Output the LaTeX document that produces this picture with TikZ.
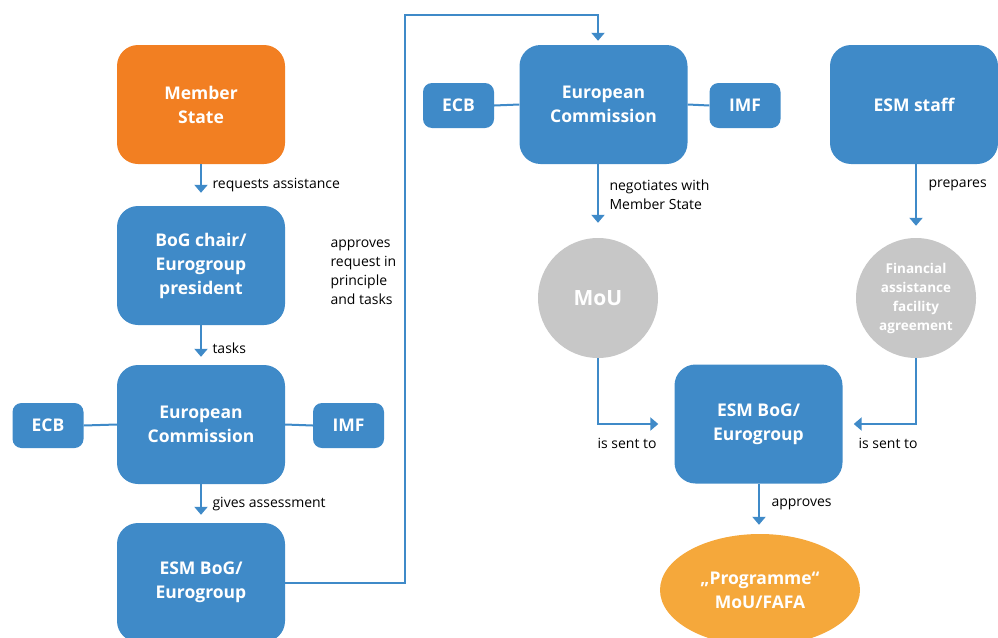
\documentclass[tikz,border=0pt]{standalone}
\usepackage{fontspec}
\setmainfont{Open Sans}
\usetikzlibrary{arrows.meta,positioning,shapes.geometric}
\definecolor{bluebox}{HTML}{3F8AC8}
\definecolor{orangebox}{HTML}{F27F22}
\definecolor{greycirc}{HTML}{C7C7C7}
\definecolor{orangeell}{HTML}{F5A83B}
\tikzset{
  box/.style={fill=bluebox, rounded corners=21pt, minimum width=168pt, minimum height=119pt, text=white, font=\fontsize{17.5}{24}\selectfont\bfseries, align=center, inner sep=0pt},
  small/.style={fill=bluebox, rounded corners=9pt, minimum width=71pt, minimum height=45pt, text=white, font=\fontsize{17.5}{24}\selectfont\bfseries, inner sep=0pt},
  circ/.style={circle, fill=greycirc, minimum size=120pt, text=white, inner sep=0pt, align=center},
  conn/.style={draw=bluebox, line width=2pt},
  arr/.style={conn, -{Triangle[length=8pt,width=13pt]}},
  lbl/.style={font=\fontsize{14}{19}\selectfont, anchor=west, align=left, text=black}
}
\begin{document}
\begin{tikzpicture}[x=1pt,y=-1pt]
\useasboundingbox (0,0) rectangle (998,637);
% left column
\node[box, fill=orangebox] (ms) at (201,104.5) {Member\\State};
\node[box] (bog) at (201,265.5) {BoG chair/\\Eurogroup\\president};
\node[box] (ec1) at (201,424.5) {European\\Commission};
\node[small] (ecb1) at (48,425.5) {ECB};
\node[small] (imf1) at (348.5,425.5) {IMF};
\node[box] (esm1) at (201,582.5) {ESM BoG/\\Eurogroup};
% right part
\node[box] (ec2) at (603.5,104.5) {European\\Commission};
\node[small] (ecb2) at (458.5,105.5) {ECB};
\node[small] (imf2) at (745,105.5) {IMF};
\node[box] (staff) at (914,104.5) {ESM staff};
\node[circ, font=\fontsize{21}{24}\selectfont\bfseries] (mou) at (598,298) {MoU};
\node[circ, font=\fontsize{13.5}{19}\selectfont\bfseries] (fafa) at (916,298) {Financial\\assistance\\facility\\agreement};
\node[box] (esm2) at (758.5,424) {ESM BoG/\\Eurogroup};
\node[ellipse, fill=orangeell, minimum width=200pt, minimum height=112pt, text=white, font=\fontsize{17.5}{24}\selectfont\bfseries, align=center, inner sep=0pt] (prog) at (760,590) {„Programme“\\MoU/FAFA};
% connectors left
\draw[arr, shorten >=13pt] (ms.south) -- (bog.north);
\draw[arr, shorten >=8pt] (bog.south -| ms.south) -- (ec1.north);
\draw[arr, shorten >=8pt] (ec1.south) -- (esm1.north);
\draw[conn] (ecb1.east) -- (ec1.west);
\draw[conn] (ec1.east) -- (imf1.west);
\coordinate (c1) at (405,15);
\draw[arr, shorten >=4pt] (esm1.east) -| (c1) -| (ec2.north -| 598,0);
% connectors right
\draw[conn] (ecb2.east) -- (ec2.west);
\draw[conn] (ec2.east) -- (imf2.west);
\draw[arr, shorten >=15pt] (ec2.south -| mou.north) -- (mou.north);
\draw[arr, shorten >=12pt] (staff.south -| fafa.north) -- (fafa.north);
\draw[arr, shorten >=16pt] (mou.south) |- (esm2.west);
\draw[arr, shorten >=11pt] (fafa.south) |- (esm2.east);
\draw[arr, shorten >=9pt] (esm2.south -| 759,0) -- (prog.north -| 759,0);
% labels
\node[lbl] (l1) at (209,185.5) {requests assistance};
\node[lbl] (l2) at (327,272) {approves\\request in\\principle\\and tasks};
\node[lbl] (l3) at (209,348.5) {tasks};
\node[lbl] (l4) at (209,504.5) {gives assessment};
\node[lbl] (l5) at (606,195) {negotiates with\\Member State};
\node[lbl] (l6) at (925,185.5) {prepares};
\node[lbl] (l7) at (594,443.5) {is sent to};
\node[lbl] (l8) at (855,443.5) {is sent to};
\node[lbl] (l9) at (768,504.5) {approves};
\end{tikzpicture}
\end{document}
